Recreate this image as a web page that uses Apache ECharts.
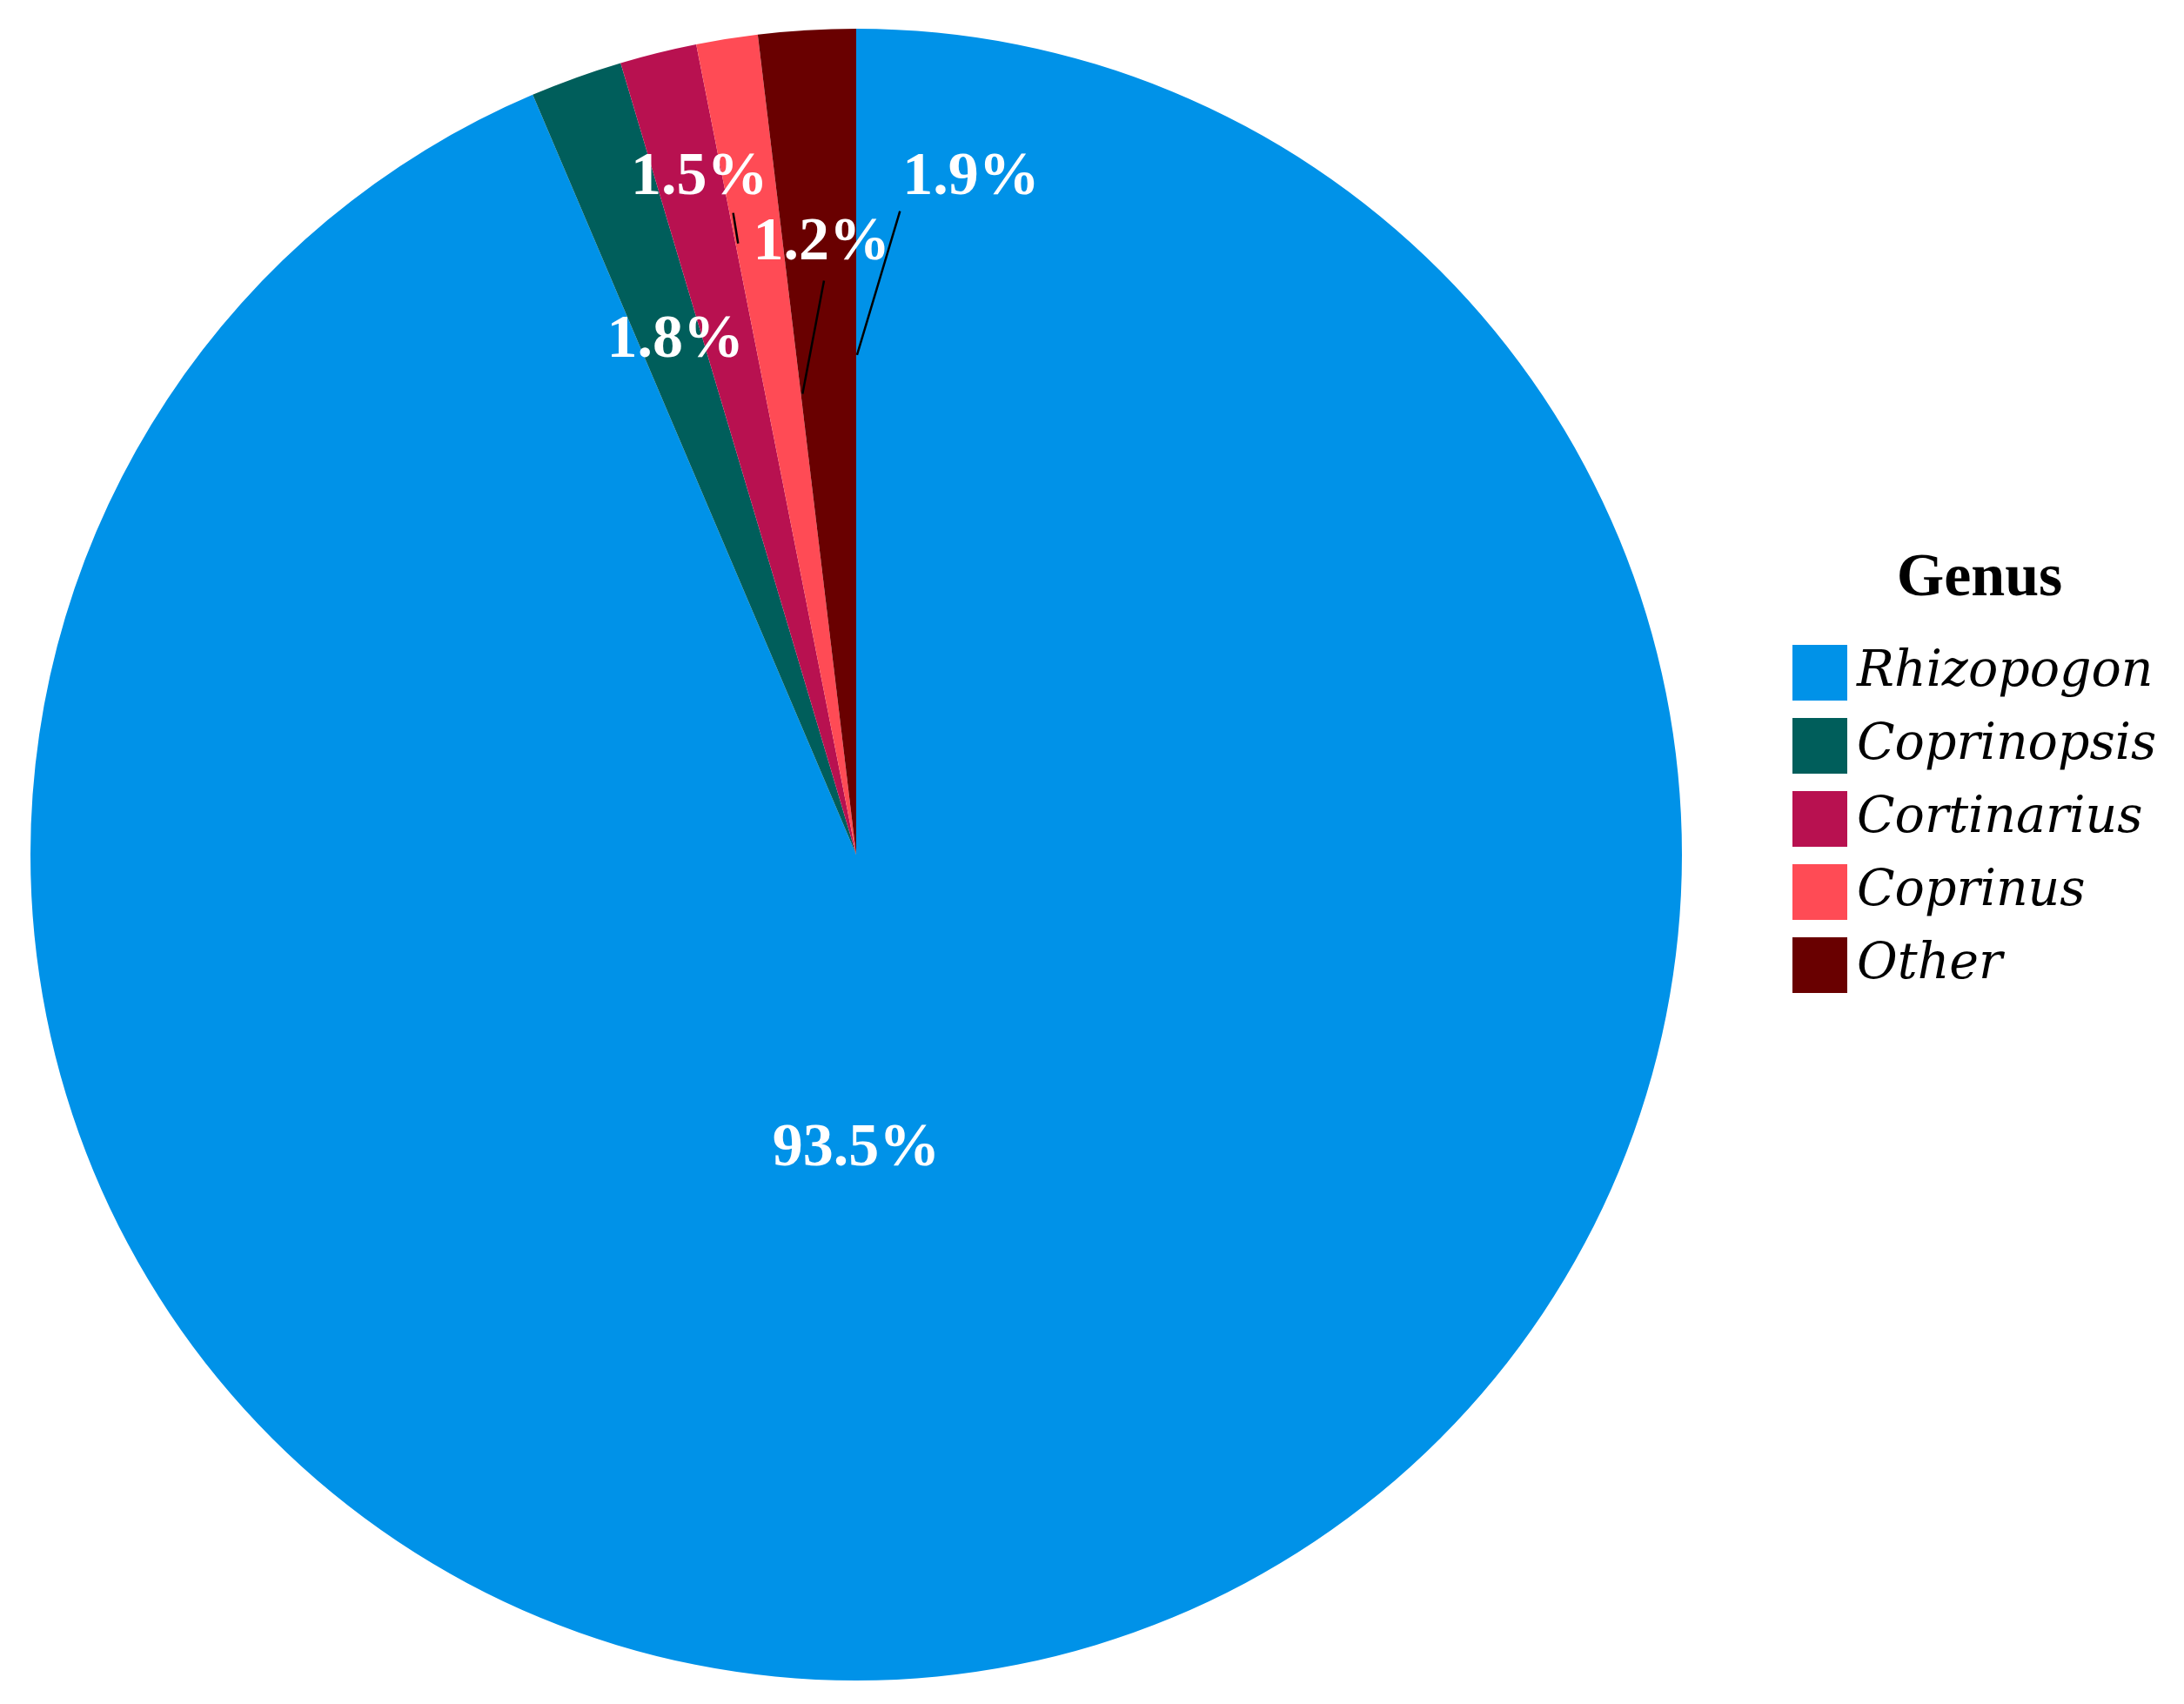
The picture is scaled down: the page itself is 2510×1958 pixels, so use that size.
<!DOCTYPE html>
<html>
<head>
<meta charset="utf-8">
<script src="https://cdn.jsdelivr.net/npm/echarts@6/dist/echarts.min.js"></script>
<style>
    html, body { margin: 0; padding: 0; background: #fff; }
    #myEcharts { width: 2510px; height: 1958px; }
</style>
</head>
<body>
<div id="myEcharts"></div>
<script>
// genus shares (%)
const genera = ['Rhizopogon', 'Coprinopsis', 'Cortinarius', 'Coprinus', 'Other'];
const shares = [93.5, 1.8, 1.5, 1.2, 1.9];
const colors = ['#0092e8', '#005e5b', '#b81150', '#ff4b55', '#690000'];

// where each percent label sits, in units of the pie radius from the centre
const labelSpots = [[0, 0.357], [-0.219, -0.622], [-0.19, -0.819], [-0.042, -0.74], [0.139, -0.819]];
// leader lines (start near label, end on slice), same units; null = no line
const leaderLines = [
    null,
    null,
    [[-0.149, -0.777], [-0.143, -0.74]],
    [[-0.039, -0.695], [-0.065, -0.558]],
    [[0.053, -0.779], [0.001, -0.605]]
];

const cx = 984, cy = 982, R = 949;
const serif = '"Liberation Serif", "Times New Roman", serif';

let chart = echarts.init(document.getElementById('myEcharts'));

const option = {
    animation: false,
    color: colors,
    title: {
        text: 'Genus',
        left: 2270,
        top: 626,
        textAlign: 'center',
        textStyle: {
            fontFamily: serif,
            fontWeight: 'bold',
            fontSize: 70,
            color: '#000'
        }
    },
    legend: {
        orient: 'vertical',
        left: 2055,
        top: 736,
        icon: 'rect',
        itemWidth: 63,
        itemHeight: 64,
        itemGap: 20,
        textStyle: {
            fontFamily: '"DejaVu Serif", serif',
            fontStyle: 'italic',
            fontSize: 57,
            color: '#000',
            padding: [0, 0, 0, 6]
        },
        data: genera
    },
    // thin black leader lines from the small labels to their slices
    graphic: leaderLines.filter(l => l !== null).map(l => ({
        type: 'polyline',
        z: 100,
        shape: { points: l.map(p => [cx + p[0] * R, cy + p[1] * R]) },
        style: { stroke: '#000', lineWidth: 2.5, fill: null }
    })),
    series: [
        {
            type: 'pie',
            center: [cx, cy],
            radius: R,
            startAngle: 90,
            clockwise: true,
            avoidLabelOverlap: false,
            label: {
                show: true,
                position: 'outside',
                formatter: '{c}%',
                color: '#fff',
                fontFamily: serif,
                fontWeight: 'bold',
                fontSize: 70
            },
            labelLine: { show: false },
            labelLayout: function (params) {
                const s = labelSpots[params.dataIndex];
                return {
                    x: cx + s[0] * R,
                    y: cy + s[1] * R,
                    align: 'center',
                    verticalAlign: 'middle'
                };
            },
            data: genera.map((name, i) => ({ name: name, value: shares[i] }))
        }
    ]
};

chart.setOption(option);
</script>
</body>
</html>
